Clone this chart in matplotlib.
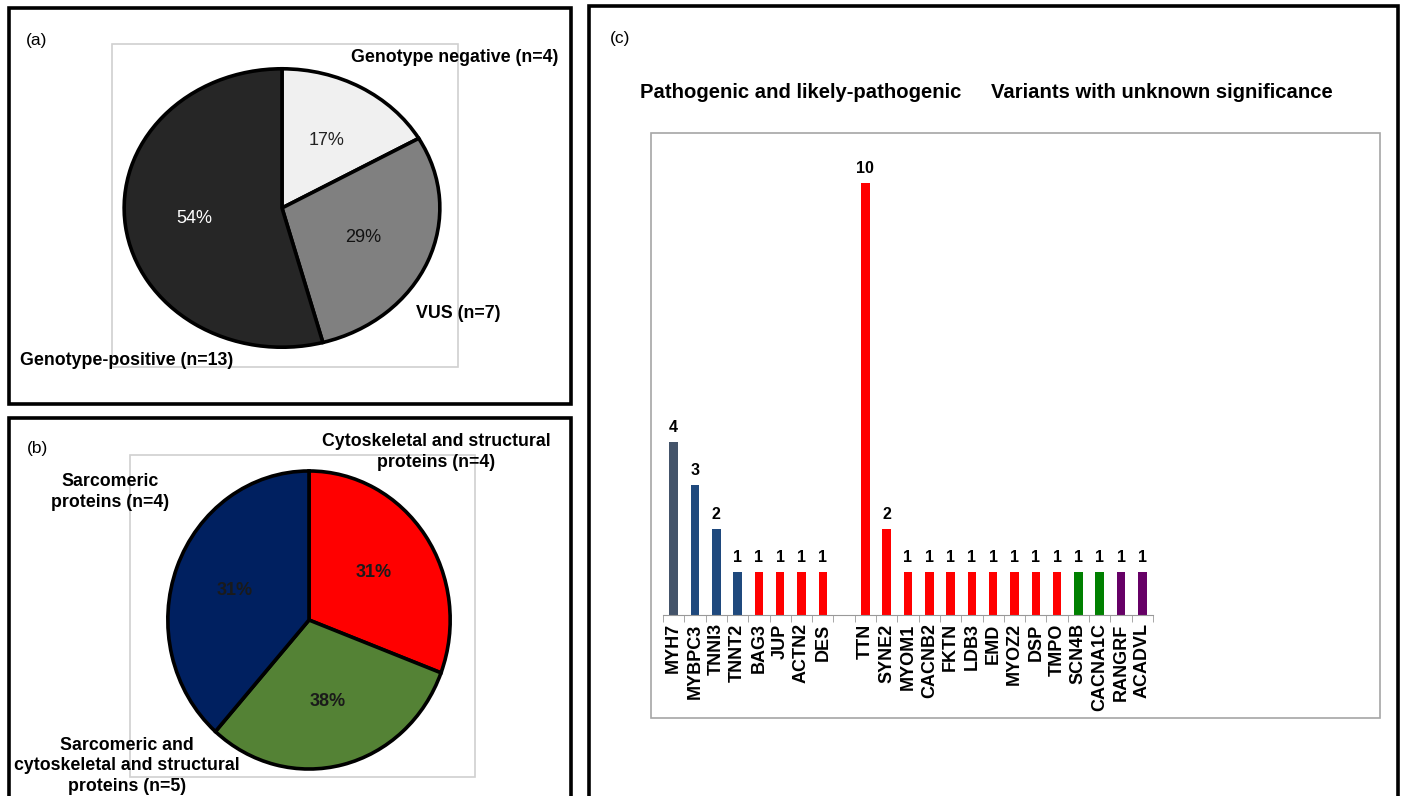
import numpy as np
import matplotlib
matplotlib.use("Agg")
import matplotlib.pyplot as plt
from matplotlib.patches import Rectangle

plt.rcParams['font.family'] = ['Liberation Sans', 'DejaVu Sans']

W, H = 1401, 796

# panel (a): genetic testing result
a_labels = ["Genotype negative (n=4)", "VUS (n=7)", "Genotype-positive (n=13)"]
a_counts = [4, 7, 13]
a_pct = ["17%", "29%", "54%"]

# panel (b): protein groups (slice sizes as drawn in the picture)
b_labels = ["Cytoskeletal and structural\nproteins (n=4)",
            "Sarcomeric and\ncytoskeletal and structural\nproteins (n=5)",
            "Sarcomeric\nproteins (n=4)"]
b_sizes = [4, 4, 5]
b_pct = ["31%", "38%", "31%"]

# panel (c): genes
plp_genes = ["MYH7", "MYBPC3", "TNNI3", "TNNT2", "BAG3", "JUP", "ACTN2", "DES"]
plp_counts = [4, 3, 2, 1, 1, 1, 1, 1]
vus_genes = ["TTN", "SYNE2", "MYOM1", "CACNB2", "FKTN", "LDB3", "EMD", "MYOZ2",
             "DSP", "TMPO", "SCN4B", "CACNA1C", "RANGRF", "ACADVL"]
vus_counts = [10, 2, 1, 1, 1, 1, 1, 1, 1, 1, 1, 1, 1, 1]

plp_colors = ["#44546a", "#1f497d", "#1f497d", "#1f497d", "red", "red", "red", "red"]
vus_colors = ["red"] * 10 + ["#008000", "#008000", "#660066", "#660066"]


def fx(x):
    return x / W


def fy(y):
    return 1 - y / H


def box(x0, y0, x1, y1, **kw):
    fig.add_artist(Rectangle((fx(x0), fy(y1)), fx(x1) - fx(x0), fy(y0) - fy(y1),
                             transform=fig.transFigure, fill=False, clip_on=False, **kw))


def axes_px(x0, y0, x1, y1):
    return fig.add_axes([fx(x0), fy(y1), fx(x1) - fx(x0), fy(y0) - fy(y1)])


fig = plt.figure(figsize=(W / 100, H / 100), dpi=100)
lab = dict(fontsize=12.8, fontweight='bold', ha='center', va='center', linespacing=1.25)

# outer panel frames
box(8.5, 8, 571, 403.5, lw=2.6, edgecolor='black')
box(8.5, 418, 571, 830, lw=2.6, edgecolor='black')
box(588.5, 5.5, 1397.5, 830, lw=2.6, edgecolor='black')

# ---------- (a) ----------
box(112, 44, 458, 367, lw=1.2, edgecolor='#d0d0d0')
ax = axes_px(121, 66, 443, 350)
ax.pie(a_counts, colors=["#f0f0f0", "#808080", "#262626"], startangle=90,
       counterclock=False, wedgeprops=dict(edgecolor='black', linewidth=2.6),
       labels=a_pct, labeldistance=0.56,
       textprops=dict(fontsize=13, ha='center', va='center'))
for t, c in zip(ax.texts, ["#222222", "#111111", "white"]):
    t.set_color(c)
ax.set_xlim(-1.02, 1.02)
ax.set_ylim(-1.02, 1.02)
ax.set_aspect('auto')
ax.axis('off')

fig.text(fx(37), fy(40), "(a)", fontsize=12.5, ha='center', va='center')
fig.text(fx(455), fy(58), a_labels[0], **lab)
fig.text(fx(458), fy(313), a_labels[1], **lab)
fig.text(fx(127), fy(361), a_labels[2], **lab)

# ---------- (b) ----------
box(130, 455, 475, 777, lw=1.2, edgecolor='#d0d0d0')
ax = axes_px(165, 468, 453, 772)
ax.pie(b_sizes, colors=["#ff0000", "#548235", "#002060"], startangle=90,
       counterclock=False, wedgeprops=dict(edgecolor='black', linewidth=2.6),
       labels=b_pct, labeldistance=0.56,
       textprops=dict(fontsize=13, fontweight='bold', color='#1a1a1a', ha='center', va='center'))
ax.set_xlim(-1.02, 1.02)
ax.set_ylim(-1.02, 1.02)
ax.set_aspect('auto')
ax.axis('off')

fig.text(fx(37), fy(448), "(b)", fontsize=12.5, ha='center', va='center')
fig.text(fx(436), fy(452), b_labels[0], **lab)
fig.text(fx(127), fy(766), b_labels[1], **lab)
fig.text(fx(110), fy(492), b_labels[2], **lab)

# ---------- (c) ----------
fig.text(fx(620), fy(38), "(c)", fontsize=12.5, ha='center', va='center')
fig.text(fx(801), fy(93), "Pathogenic and likely-pathogenic", fontsize=14.6,
         fontweight='bold', ha='center', va='center')
fig.text(fx(1162), fy(93), "Variants with unknown significance", fontsize=14.6,
         fontweight='bold', ha='center', va='center')
box(651, 133, 1380, 718, lw=1.2, edgecolor='#a6a6a6')

genes = plp_genes + [""] + vus_genes
counts = plp_counts + [0] + vus_counts
colors = plp_colors + ["none"] + vus_colors
x = np.arange(len(genes))
ymax = 10.5
ax = axes_px(663, 615 - ymax * 43.2, 1153, 615)
keep = [i for i, g in enumerate(genes) if g]
ax.bar(x[keep], [counts[i] for i in keep], width=0.4, color=[colors[i] for i in keep])
for i in keep:
    ax.annotate(str(counts[i]), (x[i], counts[i]), xytext=(0, 5), textcoords='offset points',
                ha='center', va='bottom', fontsize=11.5, fontweight='bold')
ax.set_xlim(-0.5, len(genes) - 0.5)
ax.set_ylim(0, ymax)
ax.set_xticks(x)
ax.set_xticklabels(genes, rotation=90, fontsize=13, fontweight='bold')
ax.set_xticks(np.arange(-0.5, len(genes)), minor=True)
ax.tick_params(axis='x', which='major', length=0, pad=6)
ax.tick_params(axis='x', which='minor', length=5, color='#999999', direction='out')
ax.set_yticks([])
for s in ['top', 'left', 'right']:
    ax.spines[s].set_visible(False)
ax.spines['bottom'].set_color('#999999')
ax.patch.set_alpha(0)

fig.savefig("out.png", dpi=100)
